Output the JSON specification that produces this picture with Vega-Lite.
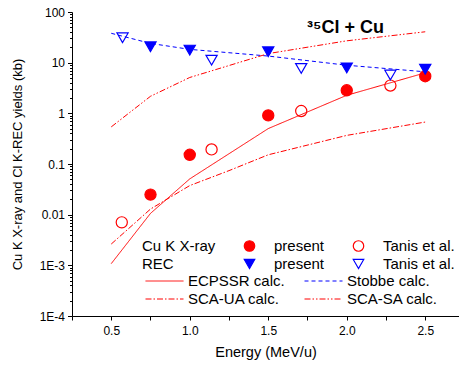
{
  "$schema": "https://vega.github.io/schema/vega-lite/v6.json",
  "width": 387,
  "height": 304,
  "autosize": {"type": "none"},
  "padding": {"left": 72, "top": 12, "right": 0, "bottom": 49},
  "background": "white",
  "title": {"text": "³⁵Cl + Cu", "anchor": "start", "frame": "group", "dx": 235, "offset": -31, "fontSize": 18, "fontWeight": "bold", "font": "Liberation Sans", "color": "black"},
  "config": {
    "view": {"stroke": null},
    "font": "Liberation Sans",
    "axis": {"domainColor": "black", "tickColor": "black", "labelColor": "black", "titleColor": "black", "labelFont": "Liberation Sans", "titleFont": "Liberation Sans", "grid": false, "labelFontSize": 12, "titleFontSize": 13, "titleFontWeight": "normal", "domainWidth": 1, "tickWidth": 1}
  },
  "datasets": {
    "curves": [
      {"calc": "ECPSSR calc.", "energy": 0.5, "yield": 0.00108},
      {"calc": "ECPSSR calc.", "energy": 0.75, "yield": 0.0106},
      {"calc": "ECPSSR calc.", "energy": 1.0, "yield": 0.0508},
      {"calc": "ECPSSR calc.", "energy": 1.5, "yield": 0.5},
      {"calc": "ECPSSR calc.", "energy": 2.0, "yield": 2.27},
      {"calc": "ECPSSR calc.", "energy": 2.5, "yield": 6.3},
      {"calc": "Stobbe calc.", "energy": 0.5, "yield": 38},
      {"calc": "Stobbe calc.", "energy": 0.75, "yield": 24},
      {"calc": "Stobbe calc.", "energy": 1.0, "yield": 18.3},
      {"calc": "Stobbe calc.", "energy": 1.5, "yield": 13.5},
      {"calc": "Stobbe calc.", "energy": 2.0, "yield": 8.9},
      {"calc": "Stobbe calc.", "energy": 2.5, "yield": 6.6},
      {"calc": "SCA-UA calc.", "energy": 0.5, "yield": 0.00263},
      {"calc": "SCA-UA calc.", "energy": 0.75, "yield": 0.0129},
      {"calc": "SCA-UA calc.", "energy": 1.0, "yield": 0.0375},
      {"calc": "SCA-UA calc.", "energy": 1.25, "yield": 0.074},
      {"calc": "SCA-UA calc.", "energy": 1.5, "yield": 0.152},
      {"calc": "SCA-UA calc.", "energy": 2.0, "yield": 0.367},
      {"calc": "SCA-UA calc.", "energy": 2.5, "yield": 0.673},
      {"calc": "SCA-SA calc.", "energy": 0.5, "yield": 0.54},
      {"calc": "SCA-SA calc.", "energy": 0.75, "yield": 2.17},
      {"calc": "SCA-SA calc.", "energy": 1.0, "yield": 5.1},
      {"calc": "SCA-SA calc.", "energy": 1.5, "yield": 15.1},
      {"calc": "SCA-SA calc.", "energy": 2.0, "yield": 27},
      {"calc": "SCA-SA calc.", "energy": 2.5, "yield": 40.7}
    ],
    "points": [
      {"series": "Cu K X-ray present", "energy": 0.75, "yield": 0.0249},
      {"series": "Cu K X-ray present", "energy": 1.0, "yield": 0.152},
      {"series": "Cu K X-ray present", "energy": 1.5, "yield": 0.91},
      {"series": "Cu K X-ray present", "energy": 2.0, "yield": 2.85},
      {"series": "Cu K X-ray present", "energy": 2.5, "yield": 5.4},
      {"series": "Cu K X-ray Tanis et al.", "energy": 0.567, "yield": 0.00705},
      {"series": "Cu K X-ray Tanis et al.", "energy": 1.139, "yield": 0.194},
      {"series": "Cu K X-ray Tanis et al.", "energy": 1.71, "yield": 1.11},
      {"series": "Cu K X-ray Tanis et al.", "energy": 2.278, "yield": 3.53},
      {"series": "REC present", "energy": 0.75, "yield": 20.6},
      {"series": "REC present", "energy": 1.0, "yield": 17.7},
      {"series": "REC present", "energy": 1.5, "yield": 16.4},
      {"series": "REC present", "energy": 2.0, "yield": 7.9},
      {"series": "REC present", "energy": 2.5, "yield": 7.4},
      {"series": "REC Tanis et al.", "energy": 0.572, "yield": 31},
      {"series": "REC Tanis et al.", "energy": 1.139, "yield": 11.2},
      {"series": "REC Tanis et al.", "energy": 1.71, "yield": 7.7},
      {"series": "REC Tanis et al.", "energy": 2.278, "yield": 5.7}
    ]
  },
  "layer": [
    {
      "data": {"name": "curves"},
      "mark": {"type": "line", "strokeWidth": 1, "clip": true},
      "encoding": {
        "x": {"field": "energy", "type": "quantitative", "scale": {"domain": [0.25, 2.715], "nice": false, "zero": false},
          "axis": {"title": "Energy (MeV/u)", "titleFontSize": 14.5, "values": [0.25, 0.5, 0.75, 1.0, 1.25, 1.5, 1.75, 2.0, 2.25, 2.5], "labelExpr": "(round(datum.value*4) % 2 == 0) ? format(datum.value, '.1f') : ''", "tickSize": 4, "labelPadding": 5, "titlePadding": 9, "labelFlush": false}},
        "y": {"field": "yield", "type": "quantitative", "scale": {"type": "log", "domain": [0.0001, 100], "nice": false},
          "axis": {"orient": "left", "title": null, "labels": false, "domain": false, "tickSize": 2.5,
            "values": [0.0002, 0.0003, 0.0004, 0.0005, 0.0006, 0.0007, 0.0008, 0.0009, 0.002, 0.003, 0.004, 0.005, 0.006, 0.007, 0.008, 0.009, 0.02, 0.03, 0.04, 0.05, 0.06, 0.07, 0.08, 0.09, 0.2, 0.3, 0.4, 0.5, 0.6, 0.7, 0.8, 0.9, 2, 3, 4, 5, 6, 7, 8, 9, 20, 30, 40, 50, 60, 70, 80, 90]}},
        "color": {"field": "calc", "type": "nominal",
          "scale": {"domain": ["ECPSSR calc.", "SCA-UA calc.", "Stobbe calc.", "SCA-SA calc."], "range": ["#ff0000", "#ff0000", "#0000ff", "#ff0000"]},
          "legend": {"title": null, "orient": "none", "legendX": 73, "legendY": 260, "columns": 2, "columnPadding": 19, "symbolType": "stroke", "symbolSize": 1444, "symbolStrokeWidth": 1, "clipHeight": 18, "rowPadding": 0, "labelOffset": 4, "labelFontSize": 15, "labelFont": "Liberation Sans", "labelColor": "black", "padding": 0}},
        "strokeDash": {"field": "calc", "type": "nominal",
          "scale": {"domain": ["ECPSSR calc.", "SCA-UA calc.", "Stobbe calc.", "SCA-SA calc."], "range": [[1, 0], [6, 2, 1.5, 2], [4, 3], [6, 2, 1.5, 2, 1.5, 2]]},
          "legend": {"title": null, "orient": "none", "legendX": 73, "legendY": 260, "columns": 2, "columnPadding": 19, "symbolType": "stroke", "symbolSize": 1444, "symbolStrokeWidth": 1, "clipHeight": 18, "rowPadding": 0, "labelOffset": 4, "labelFontSize": 15, "labelFont": "Liberation Sans", "labelColor": "black", "padding": 0}}
      }
    },
    {
      "data": {"name": "points"},
      "mark": {"type": "point", "opacity": 1, "strokeWidth": 1.2, "size": 125},
      "encoding": {
        "x": {"field": "energy", "type": "quantitative",
          "axis": {"title": "Energy (MeV/u)", "titleFontSize": 14.5, "values": [0.25, 0.5, 0.75, 1.0, 1.25, 1.5, 1.75, 2.0, 2.25, 2.5], "labelExpr": "(round(datum.value*4) % 2 == 0) ? format(datum.value, '.1f') : ''", "tickSize": 4, "labelPadding": 5, "titlePadding": 9, "labelFlush": false}},
        "y": {"field": "yield", "type": "quantitative",
          "axis": {"orient": "left", "title": "Cu K X-ray and Cl K-REC yields (kb)", "values": [0.0001, 0.001, 0.01, 0.1, 1, 10, 100], "tickSize": 4.5, "labelPadding": 3, "titlePadding": 15,
            "labelExpr": "datum.value < 0.0005 ? '1E-4' : (datum.value < 0.005 ? '1E-3' : (datum.value >= 1 ? format(datum.value, 'd') : format(datum.value, '.2~f')))"}},
        "shape": {"field": "series", "type": "nominal",
          "scale": {"domain": ["Cu K X-ray", "REC", "Cu K X-ray present", "REC present", "Cu K X-ray Tanis et al.", "REC Tanis et al."], "range": ["circle", "circle", "circle", "triangle-down", "circle", "triangle-down"]},
          "legend": {"title": null, "orient": "none", "legendX": 38, "legendY": 225, "columns": 3, "columnPadding": 26, "symbolSize": 110, "symbolStrokeWidth": 1.2, "clipHeight": 18, "rowPadding": 0, "labelOffset": 17, "labelFontSize": 15, "labelFont": "Liberation Sans", "labelColor": "black", "padding": 0,
            "labelExpr": "indexof(datum.label, 'present') >= 0 ? 'present' : (indexof(datum.label, 'Tanis') >= 0 ? 'Tanis et al.' : datum.label)"}},
        "stroke": {"field": "series", "type": "nominal",
          "scale": {"domain": ["Cu K X-ray", "REC", "Cu K X-ray present", "REC present", "Cu K X-ray Tanis et al.", "REC Tanis et al."], "range": ["transparent", "transparent", "#ff0000", "#0000ff", "#ff0000", "#0000ff"]},
          "legend": {"title": null, "orient": "none", "legendX": 38, "legendY": 225, "columns": 3, "columnPadding": 26, "symbolSize": 110, "symbolStrokeWidth": 1.2, "clipHeight": 18, "rowPadding": 0, "labelOffset": 17, "labelFontSize": 15, "labelFont": "Liberation Sans", "labelColor": "black", "padding": 0,
            "labelExpr": "indexof(datum.label, 'present') >= 0 ? 'present' : (indexof(datum.label, 'Tanis') >= 0 ? 'Tanis et al.' : datum.label)"}},
        "fill": {"field": "series", "type": "nominal",
          "scale": {"domain": ["Cu K X-ray", "REC", "Cu K X-ray present", "REC present", "Cu K X-ray Tanis et al.", "REC Tanis et al."], "range": ["transparent", "transparent", "#ff0000", "#0000ff", "transparent", "transparent"]},
          "legend": {"title": null, "orient": "none", "legendX": 38, "legendY": 225, "columns": 3, "columnPadding": 26, "symbolSize": 110, "symbolStrokeWidth": 1.2, "clipHeight": 18, "rowPadding": 0, "labelOffset": 17, "labelFontSize": 15, "labelFont": "Liberation Sans", "labelColor": "black", "padding": 0,
            "labelExpr": "indexof(datum.label, 'present') >= 0 ? 'present' : (indexof(datum.label, 'Tanis') >= 0 ? 'Tanis et al.' : datum.label)"}}
      }
    }
  ],
  "resolve": {"axis": {"y": "independent"}}
}
